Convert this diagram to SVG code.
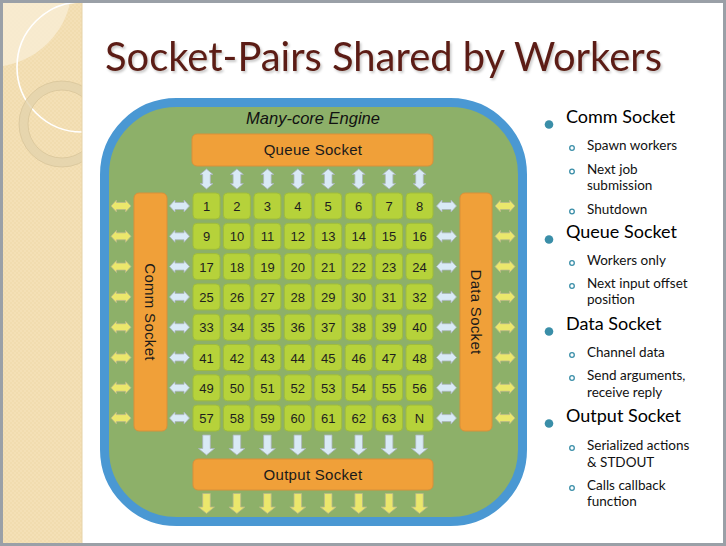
<svg xmlns="http://www.w3.org/2000/svg" xmlns:xlink="http://www.w3.org/1999/xlink" width="726" height="546" viewBox="0 0 726 546">
<style>
.num{font-family:"Liberation Sans",Arial,sans-serif;font-size:13px;fill:#1e1e1e;text-anchor:middle}
.tile{fill:#b6d23a;stroke:#9fbc3a;stroke-width:1}
.sock{fill:#f0a039;stroke:#d8903a;stroke-width:1}
.slab{font-family:"Liberation Sans",Arial,sans-serif;font-size:15px;fill:#1a1a1a;text-anchor:middle;letter-spacing:0.3px}
.ab{fill:#d9eaf6;stroke:#a9b4bd;stroke-width:0.8}
.ay{fill:#ebe76c;stroke:#b9b88a;stroke-width:0.8}
.h1{font-family:Lato,"Noto Sans",sans-serif;font-size:18px;fill:#000}
.h2{font-family:Lato,"Noto Sans",sans-serif;font-size:13.5px;fill:#111}
.b1{fill:#3a8ea8}
.b2{fill:none;stroke:#3a8ea8;stroke-width:1.3}
</style>
<defs>
<pattern id="dots" width="4" height="4" patternUnits="userSpaceOnUse">
<rect width="4" height="4" fill="#f4e0b6"/>
<rect width="2" height="2" fill="#f1dcaf"/>
<rect x="2" y="2" width="2" height="2" fill="#f1dcaf"/>
</pattern>
<clipPath id="stripClip"><rect x="3" y="3" width="79" height="540"/></clipPath>
<filter id="sh" x="-5%" y="-20%" width="110%" height="150%">
<feDropShadow dx="1.5" dy="2" stdDeviation="1.2" flood-color="#000" flood-opacity="0.22"/>
</filter>
<path id="hdbl" d="M-10,0 L-4.5,-6 L-4.5,-3.5 L4.5,-3.5 L4.5,-6 L10,0 L4.5,6 L4.5,3.5 L-4.5,3.5 L-4.5,6 Z"/>
<path id="vdbl" d="M0,-10 L-6.5,-4.5 L-3.8,-4.5 L-3.8,4.5 L-6.5,4.5 L0,10 L6.5,4.5 L3.8,4.5 L3.8,-4.5 L6.5,-4.5 Z"/>
<path id="vdown" d="M-3.8,-10 L3.8,-10 L3.8,3.5 L8,3.5 L0,10 L-8,3.5 L-3.8,3.5 Z"/>
</defs>

<!-- frame -->
<rect x="0" y="0" width="726" height="546" fill="#9aa0a7"/>
<rect x="3" y="3" width="720" height="540" fill="#ffffff"/>

<!-- left decorative strip -->
<g id="strip">
<rect x="3" y="3" width="79" height="540" fill="url(#dots)"/>
<g clip-path="url(#stripClip)">
<circle cx="-10" cy="-15" r="82" fill="#f8ecd4" opacity="0.85"/>
<circle cx="82" cy="67" r="65" fill="none" stroke="#ffffff" stroke-width="1.6"/>
<circle cx="62" cy="124" r="38.5" fill="none" stroke="#e4d3ad" stroke-width="9" opacity="0.8"/>
<circle cx="62" cy="124" r="43" fill="none" stroke="#d8c59b" stroke-width="0.8"/>
<circle cx="62" cy="124" r="34" fill="none" stroke="#d8c59b" stroke-width="0.8"/>
</g>
<line x1="82" y1="3" x2="82" y2="543" stroke="#e6d3a8" stroke-width="1"/>
</g>

<!-- title -->
<text x="105" y="71" font-family="Lato,'Noto Sans',sans-serif" font-size="40" fill="#5b1f14" textLength="557" lengthAdjust="spacingAndGlyphs" filter="url(#sh)">Socket-Pairs Shared by Workers</text>

<!-- engine -->
<g id="engine">
<rect x="104.5" y="102.5" width="418" height="419" rx="72" ry="72" fill="#8db069" stroke="#4a98d3" stroke-width="9"/>
<text x="313" y="124" font-family="'Liberation Sans',Arial,sans-serif" font-size="16.5" font-style="italic" fill="#111" text-anchor="middle">Many-core Engine</text>
</g>

<g id="queue-socket">
<rect class="sock" x="192" y="134" width="241" height="32" rx="5"/>
<text class="slab" x="313" y="155">Queue Socket</text>
</g>
<g id="comm-socket">
<rect class="sock" x="134" y="193" width="33" height="238" rx="5"/>
<text class="slab" transform="translate(150.5,312) rotate(90)" dominant-baseline="central">Comm Socket</text>
</g>
<g id="data-socket">
<rect class="sock" x="460" y="193" width="32" height="238" rx="5"/>
<text class="slab" transform="translate(476,312) rotate(90)" dominant-baseline="central">Data Socket</text>
</g>
<g id="output-socket">
<rect class="sock" x="193" y="459" width="240" height="31" rx="5"/>
<text class="slab" x="313" y="480">Output Socket</text>
</g>

<!-- workers -->
<g id="workers">
<g id="tile-1"><rect class="tile" x="193" y="193" width="27" height="26" rx="4"/><text class="num" x="206.5" y="211">1</text></g>
<g id="tile-2"><rect class="tile" x="223.4" y="193" width="27" height="26" rx="4"/><text class="num" x="236.9" y="211">2</text></g>
<g id="tile-3"><rect class="tile" x="253.9" y="193" width="27" height="26" rx="4"/><text class="num" x="267.4" y="211">3</text></g>
<g id="tile-4"><rect class="tile" x="284.3" y="193" width="27" height="26" rx="4"/><text class="num" x="297.8" y="211">4</text></g>
<g id="tile-5"><rect class="tile" x="314.7" y="193" width="27" height="26" rx="4"/><text class="num" x="328.2" y="211">5</text></g>
<g id="tile-6"><rect class="tile" x="345.2" y="193" width="27" height="26" rx="4"/><text class="num" x="358.7" y="211">6</text></g>
<g id="tile-7"><rect class="tile" x="375.6" y="193" width="27" height="26" rx="4"/><text class="num" x="389.1" y="211">7</text></g>
<g id="tile-8"><rect class="tile" x="406" y="193" width="27" height="26" rx="4"/><text class="num" x="419.5" y="211">8</text></g>

<g id="tile-9"><rect class="tile" x="193" y="223.3" width="27" height="26" rx="4"/><text class="num" x="206.5" y="241.3">9</text></g>
<g id="tile-10"><rect class="tile" x="223.4" y="223.3" width="27" height="26" rx="4"/><text class="num" x="236.9" y="241.3">10</text></g>
<g id="tile-11"><rect class="tile" x="253.9" y="223.3" width="27" height="26" rx="4"/><text class="num" x="267.4" y="241.3">11</text></g>
<g id="tile-12"><rect class="tile" x="284.3" y="223.3" width="27" height="26" rx="4"/><text class="num" x="297.8" y="241.3">12</text></g>
<g id="tile-13"><rect class="tile" x="314.7" y="223.3" width="27" height="26" rx="4"/><text class="num" x="328.2" y="241.3">13</text></g>
<g id="tile-14"><rect class="tile" x="345.2" y="223.3" width="27" height="26" rx="4"/><text class="num" x="358.7" y="241.3">14</text></g>
<g id="tile-15"><rect class="tile" x="375.6" y="223.3" width="27" height="26" rx="4"/><text class="num" x="389.1" y="241.3">15</text></g>
<g id="tile-16"><rect class="tile" x="406" y="223.3" width="27" height="26" rx="4"/><text class="num" x="419.5" y="241.3">16</text></g>

<g id="tile-17"><rect class="tile" x="193" y="253.6" width="27" height="26" rx="4"/><text class="num" x="206.5" y="271.6">17</text></g>
<g id="tile-18"><rect class="tile" x="223.4" y="253.6" width="27" height="26" rx="4"/><text class="num" x="236.9" y="271.6">18</text></g>
<g id="tile-19"><rect class="tile" x="253.9" y="253.6" width="27" height="26" rx="4"/><text class="num" x="267.4" y="271.6">19</text></g>
<g id="tile-20"><rect class="tile" x="284.3" y="253.6" width="27" height="26" rx="4"/><text class="num" x="297.8" y="271.6">20</text></g>
<g id="tile-21"><rect class="tile" x="314.7" y="253.6" width="27" height="26" rx="4"/><text class="num" x="328.2" y="271.6">21</text></g>
<g id="tile-22"><rect class="tile" x="345.2" y="253.6" width="27" height="26" rx="4"/><text class="num" x="358.7" y="271.6">22</text></g>
<g id="tile-23"><rect class="tile" x="375.6" y="253.6" width="27" height="26" rx="4"/><text class="num" x="389.1" y="271.6">23</text></g>
<g id="tile-24"><rect class="tile" x="406" y="253.6" width="27" height="26" rx="4"/><text class="num" x="419.5" y="271.6">24</text></g>

<g id="tile-25"><rect class="tile" x="193" y="283.9" width="27" height="26" rx="4"/><text class="num" x="206.5" y="301.9">25</text></g>
<g id="tile-26"><rect class="tile" x="223.4" y="283.9" width="27" height="26" rx="4"/><text class="num" x="236.9" y="301.9">26</text></g>
<g id="tile-27"><rect class="tile" x="253.9" y="283.9" width="27" height="26" rx="4"/><text class="num" x="267.4" y="301.9">27</text></g>
<g id="tile-28"><rect class="tile" x="284.3" y="283.9" width="27" height="26" rx="4"/><text class="num" x="297.8" y="301.9">28</text></g>
<g id="tile-29"><rect class="tile" x="314.7" y="283.9" width="27" height="26" rx="4"/><text class="num" x="328.2" y="301.9">29</text></g>
<g id="tile-30"><rect class="tile" x="345.2" y="283.9" width="27" height="26" rx="4"/><text class="num" x="358.7" y="301.9">30</text></g>
<g id="tile-31"><rect class="tile" x="375.6" y="283.9" width="27" height="26" rx="4"/><text class="num" x="389.1" y="301.9">31</text></g>
<g id="tile-32"><rect class="tile" x="406" y="283.9" width="27" height="26" rx="4"/><text class="num" x="419.5" y="301.9">32</text></g>

<g id="tile-33"><rect class="tile" x="193" y="314.2" width="27" height="26" rx="4"/><text class="num" x="206.5" y="332.2">33</text></g>
<g id="tile-34"><rect class="tile" x="223.4" y="314.2" width="27" height="26" rx="4"/><text class="num" x="236.9" y="332.2">34</text></g>
<g id="tile-35"><rect class="tile" x="253.9" y="314.2" width="27" height="26" rx="4"/><text class="num" x="267.4" y="332.2">35</text></g>
<g id="tile-36"><rect class="tile" x="284.3" y="314.2" width="27" height="26" rx="4"/><text class="num" x="297.8" y="332.2">36</text></g>
<g id="tile-37"><rect class="tile" x="314.7" y="314.2" width="27" height="26" rx="4"/><text class="num" x="328.2" y="332.2">37</text></g>
<g id="tile-38"><rect class="tile" x="345.2" y="314.2" width="27" height="26" rx="4"/><text class="num" x="358.7" y="332.2">38</text></g>
<g id="tile-39"><rect class="tile" x="375.6" y="314.2" width="27" height="26" rx="4"/><text class="num" x="389.1" y="332.2">39</text></g>
<g id="tile-40"><rect class="tile" x="406" y="314.2" width="27" height="26" rx="4"/><text class="num" x="419.5" y="332.2">40</text></g>

<g id="tile-41"><rect class="tile" x="193" y="344.5" width="27" height="26" rx="4"/><text class="num" x="206.5" y="362.5">41</text></g>
<g id="tile-42"><rect class="tile" x="223.4" y="344.5" width="27" height="26" rx="4"/><text class="num" x="236.9" y="362.5">42</text></g>
<g id="tile-43"><rect class="tile" x="253.9" y="344.5" width="27" height="26" rx="4"/><text class="num" x="267.4" y="362.5">43</text></g>
<g id="tile-44"><rect class="tile" x="284.3" y="344.5" width="27" height="26" rx="4"/><text class="num" x="297.8" y="362.5">44</text></g>
<g id="tile-45"><rect class="tile" x="314.7" y="344.5" width="27" height="26" rx="4"/><text class="num" x="328.2" y="362.5">45</text></g>
<g id="tile-46"><rect class="tile" x="345.2" y="344.5" width="27" height="26" rx="4"/><text class="num" x="358.7" y="362.5">46</text></g>
<g id="tile-47"><rect class="tile" x="375.6" y="344.5" width="27" height="26" rx="4"/><text class="num" x="389.1" y="362.5">47</text></g>
<g id="tile-48"><rect class="tile" x="406" y="344.5" width="27" height="26" rx="4"/><text class="num" x="419.5" y="362.5">48</text></g>

<g id="tile-49"><rect class="tile" x="193" y="374.8" width="27" height="26" rx="4"/><text class="num" x="206.5" y="392.8">49</text></g>
<g id="tile-50"><rect class="tile" x="223.4" y="374.8" width="27" height="26" rx="4"/><text class="num" x="236.9" y="392.8">50</text></g>
<g id="tile-51"><rect class="tile" x="253.9" y="374.8" width="27" height="26" rx="4"/><text class="num" x="267.4" y="392.8">51</text></g>
<g id="tile-52"><rect class="tile" x="284.3" y="374.8" width="27" height="26" rx="4"/><text class="num" x="297.8" y="392.8">52</text></g>
<g id="tile-53"><rect class="tile" x="314.7" y="374.8" width="27" height="26" rx="4"/><text class="num" x="328.2" y="392.8">53</text></g>
<g id="tile-54"><rect class="tile" x="345.2" y="374.8" width="27" height="26" rx="4"/><text class="num" x="358.7" y="392.8">54</text></g>
<g id="tile-55"><rect class="tile" x="375.6" y="374.8" width="27" height="26" rx="4"/><text class="num" x="389.1" y="392.8">55</text></g>
<g id="tile-56"><rect class="tile" x="406" y="374.8" width="27" height="26" rx="4"/><text class="num" x="419.5" y="392.8">56</text></g>

<g id="tile-57"><rect class="tile" x="193" y="405.1" width="27" height="26" rx="4"/><text class="num" x="206.5" y="423.1">57</text></g>
<g id="tile-58"><rect class="tile" x="223.4" y="405.1" width="27" height="26" rx="4"/><text class="num" x="236.9" y="423.1">58</text></g>
<g id="tile-59"><rect class="tile" x="253.9" y="405.1" width="27" height="26" rx="4"/><text class="num" x="267.4" y="423.1">59</text></g>
<g id="tile-60"><rect class="tile" x="284.3" y="405.1" width="27" height="26" rx="4"/><text class="num" x="297.8" y="423.1">60</text></g>
<g id="tile-61"><rect class="tile" x="314.7" y="405.1" width="27" height="26" rx="4"/><text class="num" x="328.2" y="423.1">61</text></g>
<g id="tile-62"><rect class="tile" x="345.2" y="405.1" width="27" height="26" rx="4"/><text class="num" x="358.7" y="423.1">62</text></g>
<g id="tile-63"><rect class="tile" x="375.6" y="405.1" width="27" height="26" rx="4"/><text class="num" x="389.1" y="423.1">63</text></g>
<g id="tile-N"><rect class="tile" x="406" y="405.1" width="27" height="26" rx="4"/><text class="num" x="419.5" y="423.1">N</text></g>
</g>

<!-- connectors -->
<g id="connectors">
<use href="#vdbl" class="ab" x="206.5" y="179"/>
<use href="#vdbl" class="ab" x="236.9" y="179"/>
<use href="#vdbl" class="ab" x="267.4" y="179"/>
<use href="#vdbl" class="ab" x="297.8" y="179"/>
<use href="#vdbl" class="ab" x="328.2" y="179"/>
<use href="#vdbl" class="ab" x="358.7" y="179"/>
<use href="#vdbl" class="ab" x="389.1" y="179"/>
<use href="#vdbl" class="ab" x="419.5" y="179"/>
<use href="#vdown" class="ab" x="206.5" y="445"/>
<use href="#vdown" class="ab" x="236.9" y="445"/>
<use href="#vdown" class="ab" x="267.4" y="445"/>
<use href="#vdown" class="ab" x="297.8" y="445"/>
<use href="#vdown" class="ab" x="328.2" y="445"/>
<use href="#vdown" class="ab" x="358.7" y="445"/>
<use href="#vdown" class="ab" x="389.1" y="445"/>
<use href="#vdown" class="ab" x="419.5" y="445"/>
<use href="#vdown" class="ay" x="206.5" y="503.5"/>
<use href="#vdown" class="ay" x="236.9" y="503.5"/>
<use href="#vdown" class="ay" x="267.4" y="503.5"/>
<use href="#vdown" class="ay" x="297.8" y="503.5"/>
<use href="#vdown" class="ay" x="328.2" y="503.5"/>
<use href="#vdown" class="ay" x="358.7" y="503.5"/>
<use href="#vdown" class="ay" x="389.1" y="503.5"/>
<use href="#vdown" class="ay" x="419.5" y="503.5"/>
<use href="#hdbl" class="ay" x="121" y="206"/>
<use href="#hdbl" class="ay" x="121" y="236.3"/>
<use href="#hdbl" class="ay" x="121" y="266.6"/>
<use href="#hdbl" class="ay" x="121" y="296.9"/>
<use href="#hdbl" class="ay" x="121" y="327.2"/>
<use href="#hdbl" class="ay" x="121" y="357.5"/>
<use href="#hdbl" class="ay" x="121" y="387.8"/>
<use href="#hdbl" class="ay" x="121" y="418.1"/>
<use href="#hdbl" class="ab" x="179.5" y="206"/>
<use href="#hdbl" class="ab" x="179.5" y="236.3"/>
<use href="#hdbl" class="ab" x="179.5" y="266.6"/>
<use href="#hdbl" class="ab" x="179.5" y="296.9"/>
<use href="#hdbl" class="ab" x="179.5" y="327.2"/>
<use href="#hdbl" class="ab" x="179.5" y="357.5"/>
<use href="#hdbl" class="ab" x="179.5" y="387.8"/>
<use href="#hdbl" class="ab" x="179.5" y="418.1"/>
<use href="#hdbl" class="ab" x="446.5" y="206"/>
<use href="#hdbl" class="ab" x="446.5" y="236.3"/>
<use href="#hdbl" class="ab" x="446.5" y="266.6"/>
<use href="#hdbl" class="ab" x="446.5" y="296.9"/>
<use href="#hdbl" class="ab" x="446.5" y="327.2"/>
<use href="#hdbl" class="ab" x="446.5" y="357.5"/>
<use href="#hdbl" class="ab" x="446.5" y="387.8"/>
<use href="#hdbl" class="ab" x="446.5" y="418.1"/>
<use href="#hdbl" class="ay" x="505" y="206"/>
<use href="#hdbl" class="ay" x="505" y="236.3"/>
<use href="#hdbl" class="ay" x="505" y="266.6"/>
<use href="#hdbl" class="ay" x="505" y="296.9"/>
<use href="#hdbl" class="ay" x="505" y="327.2"/>
<use href="#hdbl" class="ay" x="505" y="357.5"/>
<use href="#hdbl" class="ay" x="505" y="387.8"/>
<use href="#hdbl" class="ay" x="505" y="418.1"/>
</g>

<!-- bullet list -->
<g id="legend">
<circle class="b1" cx="549" cy="124.5" r="4.3"/>
<text class="h1" x="566" y="123">Comm Socket</text>
<circle class="b2" cx="572" cy="148" r="2.3"/>
<text class="h2" x="587" y="150">Spawn workers</text>
<circle class="b2" cx="572" cy="171.5" r="2.3"/>
<text class="h2" x="587" y="174">Next job</text>
<text class="h2" x="587" y="190">submission</text>
<circle class="b2" cx="572" cy="211.5" r="2.3"/>
<text class="h2" x="587" y="214">Shutdown</text>

<circle class="b1" cx="549" cy="239.5" r="4.3"/>
<text class="h1" x="566" y="238">Queue Socket</text>
<circle class="b2" cx="572" cy="263" r="2.3"/>
<text class="h2" x="587" y="265">Workers only</text>
<circle class="b2" cx="572" cy="286" r="2.3"/>
<text class="h2" x="587" y="288">Next input offset</text>
<text class="h2" x="587" y="304">position</text>

<circle class="b1" cx="549" cy="331.5" r="4.3"/>
<text class="h1" x="566" y="330">Data Socket</text>
<circle class="b2" cx="572" cy="355" r="2.3"/>
<text class="h2" x="587" y="357">Channel data</text>
<circle class="b2" cx="572" cy="378" r="2.3"/>
<text class="h2" x="587" y="380">Send arguments,</text>
<text class="h2" x="587" y="397">receive reply</text>

<circle class="b1" cx="549" cy="423.5" r="4.3"/>
<text class="h1" x="566" y="422">Output Socket</text>
<circle class="b2" cx="572" cy="448" r="2.3"/>
<text class="h2" x="587" y="450">Serialized actions</text>
<text class="h2" x="587" y="467">&amp; STDOUT</text>
<circle class="b2" cx="572" cy="488" r="2.3"/>
<text class="h2" x="587" y="490">Calls callback</text>
<text class="h2" x="587" y="506">function</text>
</g>
</svg>
